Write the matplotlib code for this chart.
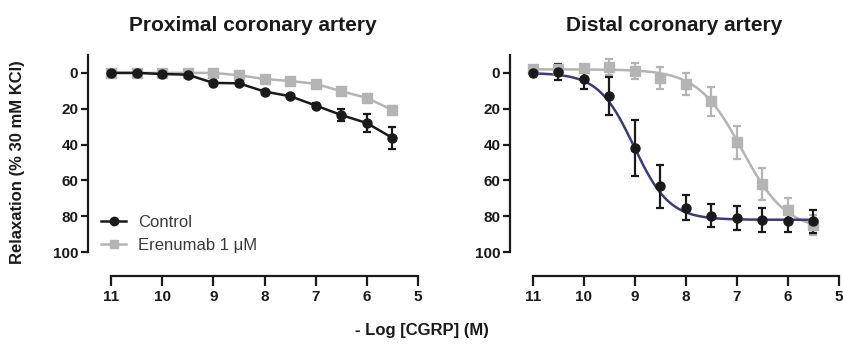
import numpy as np
import matplotlib
matplotlib.use('Agg')
import matplotlib.pyplot as plt
from matplotlib.lines import Line2D

plt.rcParams['font.family'] = ['Liberation Sans', 'DejaVu Sans']

# --- Dados ---
log_cgrp = [11, 10.5, 10, 9.5, 9, 8.5, 8, 7.5, 7, 6.5, 6, 5.5]

# Proximal
prox_ctrl = [0, 0, 0.6, 1, 5.6, 5.8, 10.4, 13, 18.2, 23.5, 28, 36.3]
prox_ctrl_err = [0.8, 0.8, 0.8, 0.8, 1, 1, 1, 1, 1.2, 3.5, 5.2, 6.1]
prox_eren = [0, 0, 0, 0, 0, 1.3, 3.4, 4.5, 6.1, 10.2, 14, 20.7]
prox_eren_err = [0.5, 0.5, 0.5, 0.5, 0.8, 0.8, 0.8, 0.8, 1, 1.5, 2, 2]

# Distal
dist_ctrl = [0, -0.6, 3.4, 13, 41.9, 63.3, 75.4, 79.7, 81, 82, 82.9, 82.9]
dist_ctrl_err = [1.2, 4.3, 5.8, 10.5, 15.8, 12, 7, 6.5, 6.5, 6.7, 6.1, 6.3]
dist_eren = [-2, -2, -2.8, -3.2, -0.9, 2.8, 6.1, 15.8, 38.7, 61.8, 76.7, 85]
dist_eren_err = [1, 1, 1.5, 4.5, 4.5, 6, 6, 8.2, 9.1, 8.9, 7, 5.6]

# Parâmetros do ajuste sigmoidal (top, bottom, pEC50, hill)
fit_ctrl = (0, 82, 9.02, 1.25)
fit_eren = (-2, 88, 6.9, 1.0)

titles = ['Proximal coronary artery', 'Distal coronary artery']
yticks = [0, 20, 40, 60, 80, 100]
xticks = [11, 10, 9, 8, 7, 6, 5]

BLACK = '#1a1a1a'
GRAY = '#b4b4b4'
NAVY = '#3b3a7c'


def hill(x, p):
    top, bottom, pec50, h = p
    return top + (bottom - top) / (1 + 10 ** (h * (x - pec50)))


fig = plt.figure(figsize=(8.43, 3.44), dpi=100)
ax1 = fig.add_axes([88 / 843, 1 - 276 / 344, 330 / 843, 221 / 344])
ax2 = fig.add_axes([510 / 843, 1 - 276 / 344, 329 / 843, 221 / 344])

for ax, title in zip([ax1, ax2], titles):
    ax.set_xlim(11.45, 5)
    ax.set_ylim(113.4, -10)
    for s in ['top', 'right']:
        ax.spines[s].set_visible(False)
    ax.spines['left'].set_bounds(-10, 100)
    ax.spines['bottom'].set_bounds(11, 5)
    for s in ['left', 'bottom']:
        ax.spines[s].set_linewidth(1.6)
        ax.spines[s].set_color(BLACK)
    ax.set_xticks(xticks)
    ax.set_yticks(yticks)
    ax.tick_params(axis='both', width=1.6, color=BLACK, labelcolor=BLACK)
    ax.tick_params(axis='y', length=5, pad=2, labelsize=11)
    ax.tick_params(axis='x', length=7, pad=3, labelsize=11)
    for lab in ax.get_xticklabels() + ax.get_yticklabels():
        lab.set_fontweight('bold')
    ax.set_title(title, fontsize=15, fontweight='bold', color=BLACK, pad=17)
    ax.patch.set_visible(False)

# --- Proximal ---
ax1.errorbar(log_cgrp, prox_eren, yerr=prox_eren_err, color=GRAY, marker='s',
             markersize=6.5, lw=1.8, elinewidth=1.6, capsize=3, capthick=1.6)
ax1.errorbar(log_cgrp, prox_ctrl, yerr=prox_ctrl_err, color=BLACK, marker='o',
             markersize=6.5, lw=1.8, elinewidth=1.6, capsize=3, capthick=1.6)

handles = [Line2D([], [], color=BLACK, marker='o', markersize=6, lw=1.8),
           Line2D([], [], color=GRAY, marker='s', markersize=6, lw=1.8)]
ax1.legend(handles, ['Control', 'Erenumab 1 \u03bcM'], loc='upper left',
           bbox_to_anchor=(0.02, 0.305), borderaxespad=0, frameon=False,
           fontsize=12, handlelength=1.5, handletextpad=0.7,
           labelspacing=0.45, labelcolor='#3a3a3a')

# --- Distal ---
xs = np.linspace(11, 5.5, 300)
ax2.plot(xs, hill(xs, fit_eren), color=GRAY, lw=1.8)
ax2.errorbar(log_cgrp, dist_eren, yerr=dist_eren_err, color=GRAY, marker='s',
             markersize=6.5, ls='none', elinewidth=1.6, capsize=3, capthick=1.6)
ax2.plot(xs, hill(xs, fit_ctrl), color=NAVY, lw=1.8)
ax2.errorbar(log_cgrp, dist_ctrl, yerr=dist_ctrl_err, color=BLACK, marker='o',
             markersize=6.5, ls='none', elinewidth=1.6, capsize=3, capthick=1.6)

fig.text(18 / 843, 0.53, 'Relaxation (% 30 mM KCl)', rotation=90, ha='center',
         va='center', fontsize=12, fontweight='bold', color=BLACK)
fig.text(0.5, 1 - 330 / 344, '- Log [CGRP] (M)', ha='center', va='center',
         fontsize=12, fontweight='bold', color=BLACK,
         family=['Liberation Sans Narrow', 'Liberation Sans'])

fig.savefig('out.png', dpi=100)
